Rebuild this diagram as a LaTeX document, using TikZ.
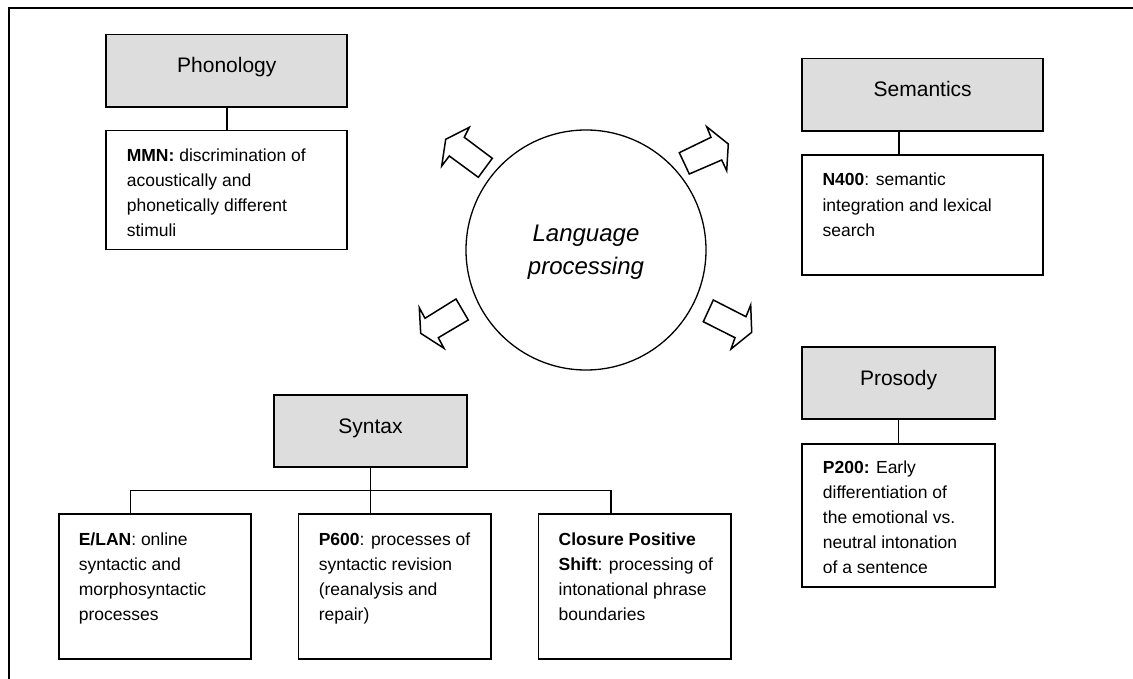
\documentclass[tikz,border=0pt]{standalone}
\usepackage{fontspec}
\setmainfont{Liberation Sans}
\definecolor{hdrgray}{RGB}{221,221,221}
\newcommand\myBody{\fontsize{17.5}{25.1}\selectfont}
\newcommand\myHead{\fontsize{21}{25}\selectfont}
\newcommand\myLP{\fontsize{24}{33}\selectfont\itshape}
\tikzset{
  hdrbox/.style={draw, line width=1.8pt, fill=hdrgray, anchor=north west, inner sep=0},
  txtbox/.style={draw, line width=1.8pt, fill=white, anchor=north west, inner sep=0},
  link/.style={line width=1.6pt},
  blockarrow/.style={draw, line width=1.5pt, fill=white, line join=miter},
  bodytext/.style={anchor=base west, inner sep=0},
  headtext/.style={anchor=base, inner sep=0},
}
\begin{document}
\begin{tikzpicture}[x=1pt,y=-1pt]
\useasboundingbox (0,0) rectangle (1133,679);
\clip (0,0) rectangle (1133,679);
% outer frame (only top and left edges visible)
\draw[line width=1.8pt] (8.6,700) |- (1150,8.3);

% boxes
\node[hdrbox, minimum width=241pt, minimum height=72.3pt] (phon) at (105.4,33.7) {};
\node[txtbox, minimum width=241pt, minimum height=119pt] (mmn) at (105.4,129.7) {};
\node[hdrbox, minimum width=241.2pt, minimum height=72.3pt] (sem) at (801.2,57.7) {};
\node[txtbox, minimum width=241.2pt, minimum height=120.3pt] (n400) at (801.2,154) {};
\node[hdrbox, minimum width=192.8pt, minimum height=71.7pt] (syn) at (273.2,394) {};
\node[txtbox, minimum width=192.1pt, minimum height=145pt] (elan) at (57.9,513.3) {};
\node[txtbox, minimum width=192.5pt, minimum height=145pt] (p600) at (297.5,513.3) {};
\node[txtbox, minimum width=192.8pt, minimum height=145pt] (cps) at (537.5,513.3) {};
\node[hdrbox, minimum width=192.9pt, minimum height=72pt] (pros) at (801.2,346) {};
\node[txtbox, minimum width=192.9pt, minimum height=143.3pt] (p200) at (801.2,442.7) {};

% connectors
\draw[link] (phon.south) -- (mmn.north);
\draw[link] ([xshift=-23.8pt]sem.south) -- ([xshift=-23.8pt]n400.north);
\draw[link] (pros.south) -- (p200.north);
\draw[link] (syn.south) -- (syn.south |- p600.north);
\coordinate (bar) at (369.6,490.3);
\draw[link] ([xshift=-24.4pt]elan.north) |- (bar) -| ([xshift=-24pt]cps.north);

% headings
\node[headtext] (phont) at ([yshift=-39pt]phon.north) {\myHead Phonology};
\node[headtext] (semt) at ([yshift=-39pt]sem.north) {\myHead Semantics};
\node[headtext] (synt) at ([yshift=-39pt]syn.north) {\myHead Syntax};
\node[headtext] (prost) at ([yshift=-39pt]pros.north) {\myHead Prosody};

% body texts
\node[bodytext] (mmnt) at ([xshift=21.2pt,yshift=-31.5pt]mmn.north west)
  {\parbox[t]{215pt}{\myBody\raggedright\textbf{MMN:} discrimination of\\acoustically and\\phonetically different\\stimuli}};
\node[bodytext] (n400t) at ([xshift=21.2pt,yshift=-32pt]n400.north west)
  {\parbox[t]{215pt}{\myBody\raggedright\textbf{N400}: semantic\\integration and lexical\\search}};
\node[bodytext] (elant) at ([xshift=20.7pt,yshift=-32pt]elan.north west)
  {\parbox[t]{170pt}{\myBody\raggedright\textbf{E/LAN}: online\\syntactic and\\morphosyntactic\\processes}};
\node[bodytext] (p600t) at ([xshift=21.1pt,yshift=-32pt]p600.north west)
  {\parbox[t]{170pt}{\myBody\raggedright\textbf{P600}: processes of\\syntactic revision\\(reanalysis and\\repair)}};
\node[bodytext] (cpst) at ([xshift=21pt,yshift=-32pt]cps.north west)
  {\parbox[t]{170pt}{\myBody\raggedright\textbf{Closure Positive}\\\textbf{Shift}: processing of\\intonational phrase\\boundaries}};
\begin{scope}
\clip (801.2,442.7) rectangle (994.1,572.8);
\node[bodytext] (p200t) at ([xshift=21.5pt,yshift=-30.3pt]p200.north west)
  {\parbox[t]{170pt}{\myBody\raggedright\textbf{P200:} Early\\differentiation of\\the emotional vs.\\neutral intonation\\of a sentence}};
\end{scope}

% central circle
\node[circle, draw, line width=1.3pt, minimum size=240pt, inner sep=0] (lp) at (586,250) {};
\node[headtext] (lpt1) at (586,241.7) {\myLP Language};
\node[headtext] (lpt2) at (586,275) {\myLP processing};

% block arrows
\draw[blockarrow] (469.3,127.3) -- (445.7,139.3) -- (441.7,166) -- (449.3,156) -- (478.3,177.3) -- (492.3,158.3) -- (464.3,137.3) -- cycle;
\draw[blockarrow] (706.7,126.7) -- (711,137.3) -- (679.3,152.7) -- (689.3,174) -- (721.7,160) -- (726.7,170.7) -- (728.3,144) -- cycle;
\draw[blockarrow] (456,299) -- (468.3,320) -- (438.3,337.7) -- (444,348.3) -- (420.7,333.3) -- (419.3,307.7) -- (425,318.3) -- cycle;
\draw[blockarrow] (713.3,300) -- (746,316.7) -- (750.7,305) -- (751.7,332.3) -- (731,349) -- (735,337.7) -- (703.3,321.7) -- cycle;
\end{tikzpicture}
\end{document}
